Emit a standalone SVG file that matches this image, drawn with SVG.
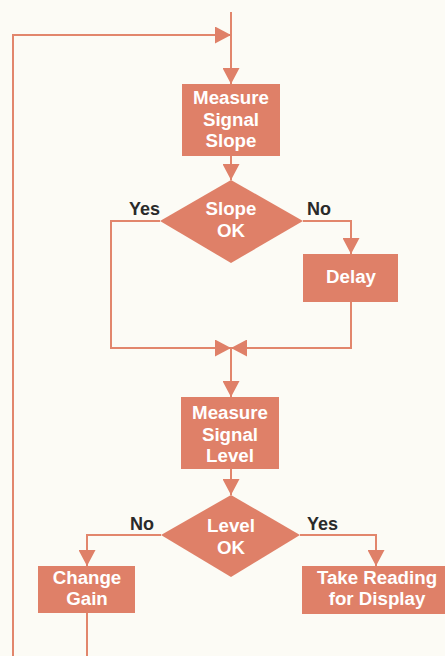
<svg xmlns="http://www.w3.org/2000/svg" width="445" height="656" viewBox="0 0 445 656">
  <style>
    .box { fill: #DF8068; }
    .lbl { font-family: "Liberation Sans", Arial, sans-serif; font-weight: bold; font-size: 18.7px; fill: #FFFFFF; text-anchor: middle; }
    .ans { font-family: "Liberation Sans", Arial, sans-serif; font-weight: bold; font-size: 18px; fill: #2A2A2A; }
    .wire { fill: none; stroke: #E2866C; stroke-width: 2; }
  </style>
  <defs>
    <marker id="head" viewBox="0 0 16 17" refX="16" refY="8.5" markerWidth="16" markerHeight="17" markerUnits="userSpaceOnUse" orient="auto">
      <path d="M0,0 L16,8.5 L0,17 Z" fill="#DF8068"/>
    </marker>
  </defs>
  <rect width="445" height="656" fill="#FCFBF5"/>

  <g id="connectors">
    <path class="wire" d="M231,12 V84" marker-end="url(#head)"/>
    <path class="wire" d="M13,656 V35 H231" marker-end="url(#head)"/>
    <path class="wire" d="M231,156 V180" marker-end="url(#head)"/>
    <path class="wire" d="M303,221 H351 V254" marker-end="url(#head)"/>
    <path class="wire" d="M160,221 H111 V348 H231" marker-end="url(#head)"/>
    <path class="wire" d="M351,302 V348 H231" marker-end="url(#head)"/>
    <path class="wire" d="M231,348 V397" marker-end="url(#head)"/>
    <path class="wire" d="M231,469 V495" marker-end="url(#head)"/>
    <path class="wire" d="M161,535 H87 V566" marker-end="url(#head)"/>
    <path class="wire" d="M300,535 H376 V566" marker-end="url(#head)"/>
    <path class="wire" d="M87,613 V656"/>
  </g>

  <g id="measure-slope">
    <rect class="box" x="182" y="84" width="98" height="72"/>
    <text class="lbl" x="231" y="104">Measure</text>
    <text class="lbl" x="231" y="125.5">Signal</text>
    <text class="lbl" x="231" y="147">Slope</text>
  </g>

  <g id="slope-ok">
    <polygon class="box" points="231,180 303,221 231,263 160,221"/>
    <text class="lbl" x="231" y="215">Slope</text>
    <text class="lbl" x="231" y="237">OK</text>
    <text class="ans" x="129" y="215">Yes</text>
    <text class="ans" x="307" y="215">No</text>
  </g>

  <g id="delay">
    <rect class="box" x="303" y="254" width="95" height="48"/>
    <text class="lbl" x="351" y="283">Delay</text>
  </g>

  <g id="measure-level">
    <rect class="box" x="181" y="397" width="98" height="72"/>
    <text class="lbl" x="230" y="419">Measure</text>
    <text class="lbl" x="230" y="440.5">Signal</text>
    <text class="lbl" x="230" y="462">Level</text>
  </g>

  <g id="level-ok">
    <polygon class="box" points="231,495 300,535 231,577 161,535"/>
    <text class="lbl" x="231" y="532">Level</text>
    <text class="lbl" x="231" y="554">OK</text>
    <text class="ans" x="130" y="530">No</text>
    <text class="ans" x="307" y="530">Yes</text>
  </g>

  <g id="change-gain">
    <rect class="box" x="38" y="566" width="97" height="47"/>
    <text class="lbl" x="87" y="584">Change</text>
    <text class="lbl" x="87" y="605">Gain</text>
  </g>

  <g id="take-reading">
    <rect class="box" x="302" y="566" width="143" height="48"/>
    <text class="lbl" x="377" y="584">Take Reading</text>
    <text class="lbl" x="377" y="605">for Display</text>
  </g>
</svg>
